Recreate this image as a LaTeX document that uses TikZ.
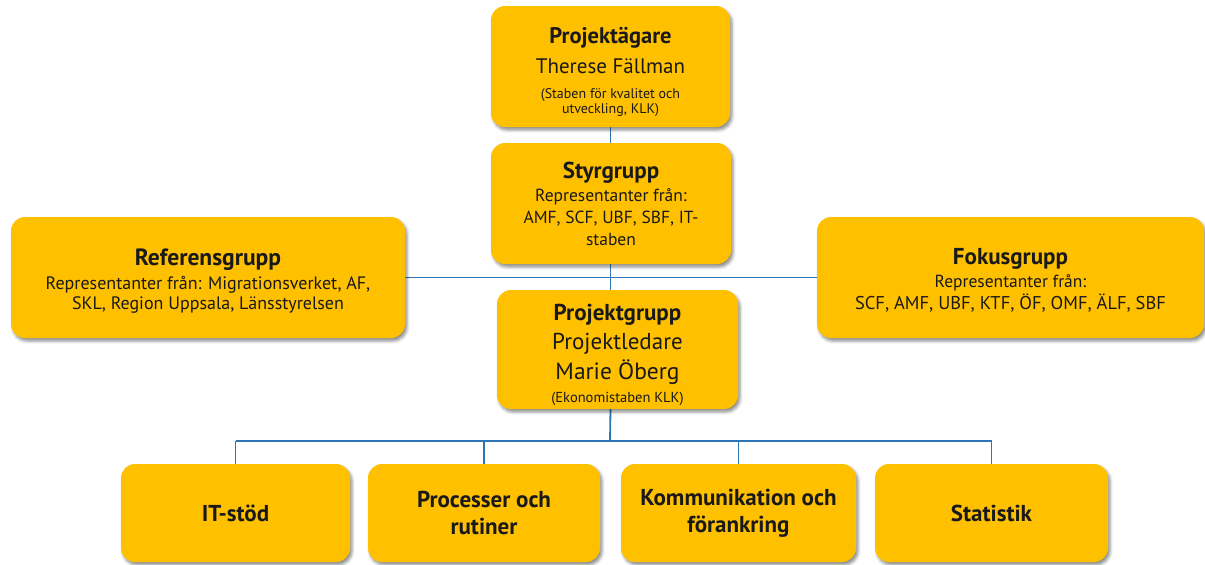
\documentclass[tikz,border=0pt]{standalone}
\usepackage{fontspec}
\setmainfont{PT Sans}
\usetikzlibrary{shadows.blur}
\definecolor{boxgold}{HTML}{FFC000}
\definecolor{linkblue}{HTML}{2E75B6}
\pgfdeclarelayer{background}
\pgfsetlayers{background,main}
\newcommand\fs[2]{\fontsize{#1}{#2}\selectfont}
% invisible strut that pushes a text block down inside its box
\newcommand\lift[1]{\rule{0pt}{#1}}
\begin{document}
\begin{tikzpicture}[x=1pt,y=-1pt,
  box/.style={fill=boxgold, rounded corners=14pt, align=center, inner sep=2pt,
    text=black!90,
    blur shadow={shadow xshift=2pt, shadow yshift=-3pt, shadow blur radius=3pt, shadow opacity=45}},
  topbox/.style={box, minimum width=#1, minimum height=121pt},
  lowbox/.style={box, minimum width=#1, minimum height=98pt, font=\fs{23}{27}\bfseries},
  link/.style={draw=linkblue, line width=1.8pt}]
\useasboundingbox (0,0) rectangle (1205,565);

% management chain
\node[topbox=239pt, font=\fs{14}{15}] (own) at (610.5,66.5)
  {\fs{22.5}{24}\bfseries\lift{27pt}Projektägare\\[9pt]
   \fs{21}{24}\mdseries Therese Fällman\\[10pt]
   \fs{14}{15}\mdseries (Staben för kvalitet och\\
   \fs{14}{15}\mdseries utveckling, KLK)};
\node[topbox=240pt, font=\fs{17.5}{22}] (styr) at (611,203.5)
  {\fs{23}{24}\bfseries Styrgrupp\\[1pt]
   \fs{17.5}{22}\mdseries Representanter från:\\
   \fs{17.5}{22}\mdseries AMF, SCF, UBF, SBF, IT-\\
   \fs{17.5}{22}\mdseries staben};
\node[topbox=394pt, font=\fs{18}{20}] (ref) at (208,277.5)
  {\fs{23.5}{24}\bfseries\lift{24pt}Referensgrupp\\[4pt]
   \fs{18}{20}\mdseries Representanter från: Migrationsverket, AF,\\
   \fs{18}{20}\mdseries SKL, Region Uppsala, Länsstyrelsen};
\node[topbox=387pt, font=\fs{17.5}{22}] (fokus) at (1010.5,277.5)
  {\fs{23}{24}\bfseries\lift{21pt}Fokusgrupp\\[1pt]
   \fs{17.5}{22}\mdseries Representanter från:\\
   \fs{18.5}{22}\mdseries SCF, AMF, UBF, KTF, ÖF, OMF, ÄLF, SBF};
\node[box, minimum width=241pt, minimum height=119pt, font=\fs{14}{23}] (proj) at (617.5,349.5)
  {\fs{23}{25}\bfseries\lift{27pt}Projektgrupp\\[6pt]
   \fs{23}{25}\mdseries Projektledare\\[5pt]
   \fs{23.5}{25}\mdseries Marie Öberg\\
   \fs{14.5}{17}\mdseries (Ekonomistaben KLK)};

% work groups
\node[lowbox=229pt] (it) at (235.5,513) {IT-stöd};
\node[lowbox=232pt] (proc) at (484,513) {Processer och\\ rutiner};
\node[lowbox=235pt] (komm) at (738.5,513) {Kommunikation och\\ förankring};
\node[lowbox=233pt] (stat) at (991.5,513) {Statistik};

\coordinate (bus) at (610,441);

\begin{pgfonlayer}{background}
  \draw[link] (own.south) -- (own.south |- proj.north);
  \draw[link] (ref.east) -- (fokus.west);
  \draw[link] (own.south |- proj.south) -- (bus);
  \draw[link] (it.north |- bus) -- (stat.north |- bus);
  \foreach \n in {it,proc,komm,stat}
    \draw[link] (\n.north) -- (\n.north |- bus);
\end{pgfonlayer}
\end{tikzpicture}
\end{document}
